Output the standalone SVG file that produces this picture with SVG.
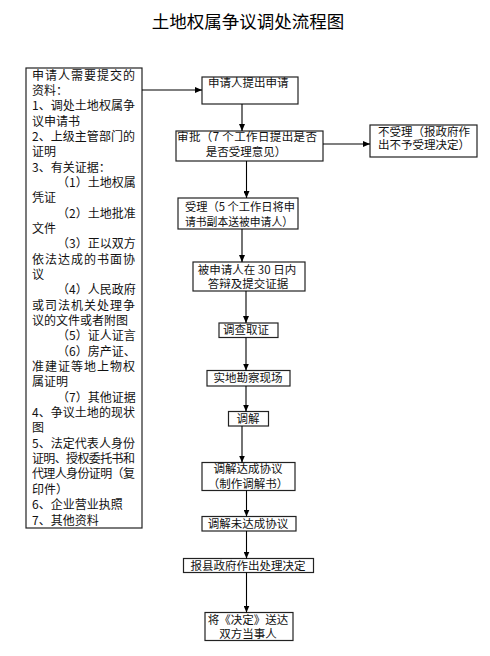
<svg xmlns="http://www.w3.org/2000/svg" width="490" height="656" viewBox="0 0 490 656">
<defs>
<marker id="ah" markerUnits="userSpaceOnUse" markerWidth="7" markerHeight="6" refX="7" refY="3" orient="auto">
<path d="M0,0 L7,3 L0,6 Z" fill="#000"/>
</marker>
<style>
text{font-family:"Noto Sans CJK SC","Liberation Sans",sans-serif;fill:#111;}
.n{font-size:11.5px;}
.m{text-anchor:middle;}
.l{font-size:12px;}
.t{font-size:17.5px;text-anchor:middle;fill:#000;}
rect{fill:#fff;stroke:#222;stroke-width:1.2;}
.c line{stroke:#000;stroke-width:1.1;marker-end:url(#ah);}
</style>
</defs>
<rect x="0" y="0" width="490" height="656" style="stroke:none;fill:#fff"/>
<text class="t" x="248" y="28.3">土地权属争议调处流程图</text>

<g id="materials">
<rect x="26" y="68" width="116" height="460"/>
<text class="l" x="32" y="79.6" textLength="103" lengthAdjust="spacing">申请人需要提交的</text>
<text class="l" x="32" y="94.9">资料：</text>
<text class="l" x="32" y="110.3" textLength="103" lengthAdjust="spacing">1、调处土地权属争</text>
<text class="l" x="32" y="125.6">议申请书</text>
<text class="l" x="32" y="141" textLength="103" lengthAdjust="spacing">2、上级主管部门的</text>
<text class="l" x="32" y="156.3">证明</text>
<text class="l" x="32" y="171.6">3、有关证据：</text>
<text class="l" x="57" y="187">（1）土地权属</text>
<text class="l" x="32" y="202.3">凭证</text>
<text class="l" x="57" y="217.7">（2）土地批准</text>
<text class="l" x="32" y="233">文件</text>
<text class="l" x="57" y="248.3">（3）正以双方</text>
<text class="l" x="32" y="263.7" textLength="103" lengthAdjust="spacing">依法达成的书面协</text>
<text class="l" x="32" y="279">议</text>
<text class="l" x="57" y="294.4">（4）人民政府</text>
<text class="l" x="32" y="309.7" textLength="103" lengthAdjust="spacing">或司法机关处理争</text>
<text class="l" x="32" y="325">议的文件或者附图</text>
<text class="l" x="57" y="340.4">（5）证人证言</text>
<text class="l" x="57" y="355.7">（6）房产证、</text>
<text class="l" x="32" y="371.1" textLength="103" lengthAdjust="spacing">准建证等地上物权</text>
<text class="l" x="32" y="386.4">属证明</text>
<text class="l" x="57" y="401.7">（7）其他证据</text>
<text class="l" x="32" y="417.1" textLength="103" lengthAdjust="spacing">4、争议土地的现状</text>
<text class="l" x="32" y="432.4">图</text>
<text class="l" x="32" y="447.8" textLength="103" lengthAdjust="spacing">5、法定代表人身份</text>
<text class="l" x="32" y="463.1" textLength="103" lengthAdjust="spacing">证明、授权委托书和</text>
<text class="l" x="32" y="478.4" textLength="103" lengthAdjust="spacing">代理人身份证明（复</text>
<text class="l" x="32" y="493.8">印件）</text>
<text class="l" x="32" y="509.1">6、企业营业执照</text>
<text class="l" x="32" y="524.5">7、其他资料</text>
</g>

<g id="apply">
<rect x="202" y="77" width="96" height="27"/>
<text class="n" x="208" y="87.1">申请人提出申请</text>
</g>
<g id="review">
<rect x="176" y="131" width="147" height="30"/>
<text class="n" x="177" y="141.4" textLength="140" lengthAdjust="spacing">审批（7 个工作日提出是否</text>
<text class="n m" x="246" y="156.1">是否受理意见）</text>
</g>
<g id="reject">
<rect x="370" y="125" width="107" height="32"/>
<text class="n" x="378" y="136.1">不受理（报政府作</text>
<text class="n" x="378" y="149.4">出不予受理决定）</text>
</g>
<g id="accept">
<rect x="178" y="198" width="120" height="31"/>
<text class="n" x="185" y="211.1" textLength="110" lengthAdjust="spacingAndGlyphs">受理（5 个工作日将申</text>
<text class="n" x="185" y="226.1" textLength="108" lengthAdjust="spacingAndGlyphs">请书副本送被申请人）</text>
</g>
<g id="respond">
<rect x="193" y="262" width="112" height="29"/>
<text class="n m" x="247" y="273.7">被申请人在 30 日内</text>
<text class="n m" x="248" y="287.7">答辩及提交证据</text>
</g>
<g id="investigate">
<rect x="219" y="323" width="59" height="14.5"/>
<text class="n m" x="246" y="334.4">调查取证</text>
</g>
<g id="survey">
<rect x="207" y="370.5" width="83" height="15.5"/>
<text class="n m" x="248" y="382.4">实地勘察现场</text>
</g>
<g id="mediate">
<rect x="228.5" y="411.5" width="40" height="14.5"/>
<text class="n m" x="248" y="422.9">调解</text>
</g>
<g id="agree">
<rect x="202" y="462.5" width="93" height="28"/>
<text class="n m" x="248" y="472.9">调解达成协议</text>
<text class="n m" x="248" y="487.7">（制作调解书）</text>
</g>
<g id="disagree">
<rect x="202" y="516.5" width="94" height="14.5"/>
<text class="n m" x="248" y="528.4">调解未达成协议</text>
</g>
<g id="decide">
<rect x="183.5" y="558.5" width="130" height="14"/>
<text class="n m" x="248" y="570.3">报县政府作出处理决定</text>
</g>
<g id="deliver">
<rect x="205" y="612.5" width="88" height="28"/>
<text class="n m" x="248" y="623.7">将《决定》送达</text>
<text class="n m" x="248" y="637.7">双方当事人</text>
</g>

<g id="connectors" class="c">
<line x1="142" y1="90" x2="202" y2="90"/>
<line x1="242" y1="104" x2="242" y2="131"/>
<line x1="323" y1="144" x2="370" y2="144"/>
<line x1="246.5" y1="161" x2="246.5" y2="198"/>
<line x1="242" y1="229" x2="242" y2="262"/>
<line x1="246" y1="291" x2="246" y2="323"/>
<line x1="246" y1="337.5" x2="246" y2="370.5"/>
<line x1="246" y1="386" x2="246" y2="411.5"/>
<line x1="242" y1="426" x2="242" y2="462.5"/>
<line x1="246.5" y1="490.5" x2="246.5" y2="516.5"/>
<line x1="246.5" y1="531" x2="246.5" y2="558.5"/>
<line x1="246.5" y1="572.5" x2="246.5" y2="612.5"/>
</g>
</svg>
